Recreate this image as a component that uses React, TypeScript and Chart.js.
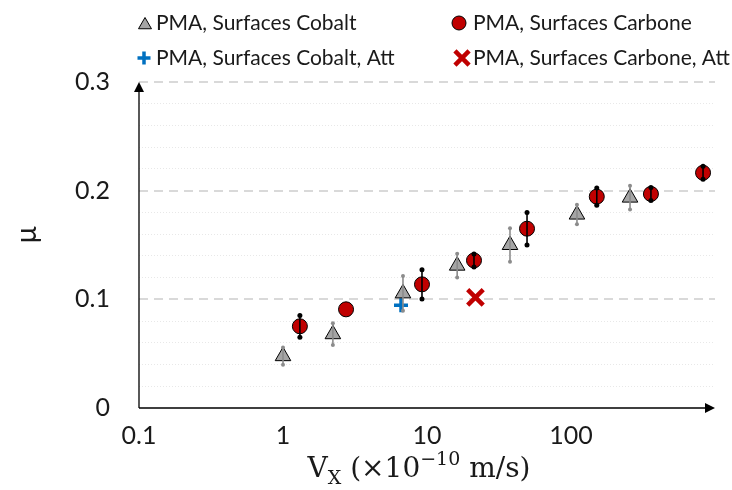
import React, { useEffect, useRef } from "react";
import { Chart, registerables } from "chart.js";
import { drawPoint } from "chart.js/helpers";

Chart.register(...registerables);

// ---- data ----
const seriesLabels = [
  "PMA, Surfaces Cobalt",
  "PMA, Surfaces Carbone",
  "PMA, Surfaces Cobalt, Att",
  "PMA, Surfaces Carbone, Att",
];

const cobaltX = [1.0, 2.22, 6.81, 16.2, 37.7, 110, 257];
const cobaltY = [0.0477, 0.0679, 0.1055, 0.131, 0.15, 0.178, 0.1936];
const cobaltErr = [0.008, 0.01, 0.016, 0.011, 0.0155, 0.009, 0.011];

const carboneX = [1.31, 2.74, 9.23, 21.2, 49.5, 151, 359, 826];
const carboneY = [0.0752, 0.0908, 0.1138, 0.1358, 0.165, 0.1945, 0.197, 0.2165];
const carboneErr = [0.01, 0, 0.0135, 0.006, 0.015, 0.008, 0.006, 0.006];

const cobaltAttX = [6.6];
const cobaltAttY = [0.0945];

const carboneAttX = [21.7];
const carboneAttY = [0.1018];

const xTickValues = [0.1, 1, 10, 100];
const xMin = 0.1;
const xMax = 1000;
const yMin = 0;
const yMax = 0.3;
const yStep = 0.02;

const toPoints = (xs: number[], ys: number[]) => xs.map((x, i) => ({ x, y: ys[i] }));

const isMajor = (v: any) =>
  typeof v === "number" && Math.abs(v * 10 - Math.round(v * 10)) < 1e-6;

const FONT = "Lato, 'Noto Sans', sans-serif";

// ---- plugins ----
const errorBarPlugin = {
  id: "errorBars",
  afterDatasetsDraw(chart: any) {
    const ctx = chart.ctx;
    const ys = chart.scales.y;
    chart.data.datasets.forEach((ds: any, i: number) => {
      if (!ds.errorBars) return;
      const meta = chart.getDatasetMeta(i);
      meta.data.forEach((pt: any, j: number) => {
        const e = ds.errorBars[j];
        if (!e) return;
        const v = ds.data[j].y;
        const x = pt.x;
        const y1 = ys.getPixelForValue(v + e);
        const y2 = ys.getPixelForValue(v - e);
        ctx.save();
        ctx.strokeStyle = ds.errorColor;
        ctx.fillStyle = ds.errorColor;
        ctx.lineWidth = ds.errorWidth;
        ctx.beginPath();
        ctx.moveTo(x, y1);
        ctx.lineTo(x, y2);
        ctx.stroke();
        [y1, y2].forEach((yy) => {
          ctx.beginPath();
          ctx.arc(x, yy, ds.capRadius, 0, Math.PI * 2);
          ctx.fill();
        });
        ctx.restore();
      });
    });
  },
};

const axesPlugin = {
  id: "arrowAxes",
  beforeDatasetsDraw(chart: any) {
    const { ctx, chartArea } = chart;
    const { left, right, top, bottom } = chartArea;
    ctx.save();
    ctx.strokeStyle = "#000";
    ctx.fillStyle = "#000";
    ctx.lineWidth = 1.3;
    ctx.beginPath();
    ctx.moveTo(left, bottom);
    ctx.lineTo(right - 6, bottom);
    ctx.moveTo(left, bottom);
    ctx.lineTo(left, top + 6);
    ctx.stroke();
    // x arrow
    ctx.beginPath();
    ctx.moveTo(right, bottom);
    ctx.lineTo(right - 10, bottom - 5);
    ctx.lineTo(right - 10, bottom + 5);
    ctx.closePath();
    ctx.fill();
    // y arrow
    ctx.beginPath();
    ctx.moveTo(left, top);
    ctx.lineTo(left - 5, top + 10);
    ctx.lineTo(left + 5, top + 10);
    ctx.closePath();
    ctx.fill();
    ctx.restore();
  },
};

const legendPos = [
  { mx: 145, tx: 156, y: 23 },
  { mx: 459, tx: 473, y: 23 },
  { mx: 144, tx: 156, y: 58 },
  { mx: 462, tx: 473, y: 58 },
];
const legendRadius = [7.5, 7, 6.5, 10];

const legendPlugin = {
  id: "gridLegend",
  afterDraw(chart: any) {
    const ctx = chart.ctx;
    chart.data.datasets.forEach((ds: any, i: number) => {
      const p = legendPos[i];
      ctx.save();
      ctx.fillStyle = ds.backgroundColor;
      ctx.strokeStyle = ds.borderColor;
      ctx.lineWidth = ds.borderWidth;
      drawPoint(
        ctx,
        { pointStyle: ds.pointStyle, radius: legendRadius[i], rotation: 0, borderWidth: ds.borderWidth },
        p.mx,
        ds.pointStyle === "triangle" ? p.y + 2 : p.y
      );
      ctx.restore();
      ctx.save();
      ctx.fillStyle = "#1a1a1a";
      ctx.font = `21px ${FONT}`;
      ctx.textBaseline = "middle";
      ctx.textAlign = "left";
      ctx.fillText(seriesLabels[i], p.tx, p.y);
      ctx.restore();
    });
  },
};

const titlePlugin = {
  id: "axisTitles",
  afterDraw(chart: any) {
    const ctx = chart.ctx;
    const { left, right, top, bottom } = chart.chartArea;
    // x title with sub/superscript
    const serif = "'DejaVu Serif', 'Liberation Serif', serif";
    const parts = [
      { t: "V", s: 28, dy: 0 },
      { t: "X", s: 19, dy: 7 },
      { t: " (×10", s: 28, dy: 0 },
      { t: "−10", s: 19, dy: -12 },
      { t: " m/s)", s: 28, dy: 0 },
    ];
    ctx.save();
    ctx.fillStyle = "#1a1a1a";
    ctx.textBaseline = "alphabetic";
    ctx.textAlign = "left";
    let total = 0;
    const widths = parts.map((p) => {
      ctx.font = `${p.s}px ${serif}`;
      const w = ctx.measureText(p.t).width;
      total += w;
      return w;
    });
    const cx = (left + right) / 2 - 8;
    let x = cx - total / 2;
    const base = bottom + 69;
    parts.forEach((p, i) => {
      ctx.font = `${p.s}px ${serif}`;
      ctx.fillText(p.t, x, base + p.dy);
      x += widths[i];
    });
    ctx.restore();
    // y title
    ctx.save();
    ctx.translate(27, (top + bottom) / 2 - 10);
    ctx.rotate(-Math.PI / 2);
    ctx.fillStyle = "#1a1a1a";
    ctx.font = `28px ${FONT}`;
    ctx.textAlign = "center";
    ctx.textBaseline = "middle";
    ctx.fillText("μ", 0, 0);
    ctx.restore();
  },
};

export default function App() {
  const ref = useRef<HTMLCanvasElement>(null);
  useEffect(() => {
    const canvas = ref.current!;
    const chart = new Chart(canvas, {
      type: "scatter",
      data: {
        datasets: [
          {
            label: seriesLabels[0],
            data: toPoints(cobaltX, cobaltY),
            pointStyle: "triangle",
            pointRadius: 9,
            backgroundColor: "#a5a5a5",
            borderColor: "#000000",
            borderWidth: 1,
            errorBars: cobaltErr,
            errorColor: "#8c8c8c",
            errorWidth: 1.6,
            capRadius: 2,
          } as any,
          {
            label: seriesLabels[1],
            data: toPoints(carboneX, carboneY),
            pointStyle: "circle",
            pointRadius: 7.5,
            backgroundColor: "#c00000",
            borderColor: "#000000",
            borderWidth: 1,
            errorBars: carboneErr,
            errorColor: "#000000",
            errorWidth: 1.6,
            capRadius: 2.5,
          } as any,
          {
            label: seriesLabels[2],
            data: toPoints(cobaltAttX, cobaltAttY),
            pointStyle: "cross",
            pointRadius: 7,
            backgroundColor: "#0070c0",
            borderColor: "#0070c0",
            borderWidth: 3.5,
          } as any,
          {
            label: seriesLabels[3],
            data: toPoints(carboneAttX, carboneAttY),
            pointStyle: "crossRot",
            pointRadius: 11,
            backgroundColor: "#c00000",
            borderColor: "#c00000",
            borderWidth: 4.5,
          } as any,
        ],
      },
      options: {
        animation: false,
        responsive: false,
        devicePixelRatio: 1,
        layout: { padding: { top: 82, right: 17, left: 0, bottom: 0 } },
        plugins: {
          legend: { display: false },
          tooltip: { enabled: false },
        },
        scales: {
          x: {
            type: "logarithmic",
            min: xMin,
            max: xMax,
            afterBuildTicks: (scale: any) => {
              scale.ticks = xTickValues.map((v) => ({ value: v }));
            },
            afterFit: (scale: any) => {
              scale.height = 82;
            },
            grid: { display: false, drawTicks: false },
            border: { display: false },
            ticks: {
              autoSkip: false,
              maxRotation: 0,
              padding: 13,
              color: "#1a1a1a",
              font: { family: FONT, size: 25 },
              callback: (v: any) => String(v),
            },
          },
          y: {
            type: "linear",
            min: yMin,
            max: yMax,
            afterFit: (scale: any) => {
              scale.width = 139;
            },
            grid: {
              drawTicks: false,
              color: (c: any) => {
                const v = c.tick ? c.tick.value : undefined;
                if (v === undefined || Math.abs(v) < 1e-9) return "rgba(0,0,0,0)";
                return isMajor(v) ? "#d9d9d9" : "#e8e8e8";
              },
              lineWidth: (c: any) => (c.tick && isMajor(c.tick.value) ? 2 : 1),
            },
            border: {
              display: false,
              dash: (c: any) => (c.tick && isMajor(c.tick.value) ? [9, 6] : [1, 2]),
            },
            ticks: {
              stepSize: yStep,
              autoSkip: false,
              padding: 29,
              color: "#1a1a1a",
              font: { family: FONT, size: 25 },
              callback: (v: any) => (isMajor(v) ? String(Math.round(v * 10) / 10) : ""),
            },
          },
        },
      },
      plugins: [axesPlugin, errorBarPlugin, legendPlugin, titlePlugin],
    } as any);
    return () => chart.destroy();
  }, []);
  return (
    <div style={{ position: "fixed", left: 0, top: 0, width: 732, height: 490, background: "#fff" }}>
      <canvas ref={ref} width={732} height={490} style={{ display: "block", width: 732, height: 490 }} />
    </div>
  );
}
